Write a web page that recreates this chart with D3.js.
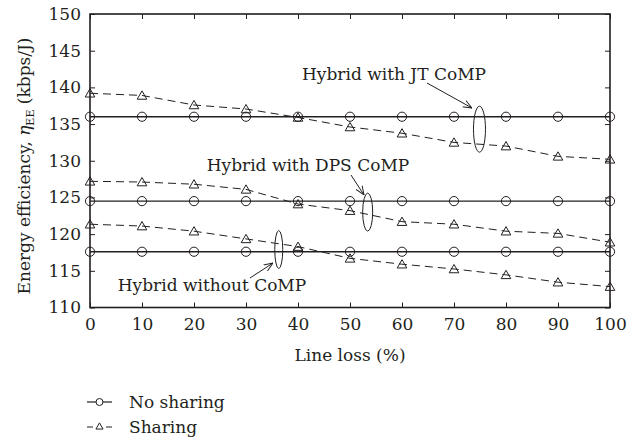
<!DOCTYPE html>
<html><head><meta charset="utf-8">
<script src="https://cdn.jsdelivr.net/npm/d3@7"></script>
<style>body{margin:0;background:#fff}svg{display:block}svg text{font-family:"DejaVu Serif",serif !important;fill:#231f20}</style>
</head><body><svg id="c" width="638" height="442"></svg>
<script>
const lineLoss = [0,10,20,30,40,50,60,70,80,90,100];
const jtNoSharing  = [136,136,136,136,136,136,136,136,136,136,136];
const jtSharing    = [139.2,138.9,137.6,137.05,135.9,134.6,133.75,132.5,132.0,130.6,130.2];
const dpsNoSharing = [124.5,124.5,124.5,124.5,124.5,124.5,124.5,124.5,124.5,124.5,124.5];
const dpsSharing   = [127.2,127.1,126.8,126.1,124.1,123.2,121.7,121.35,120.4,120.1,118.9];
const woNoSharing  = [117.6,117.6,117.6,117.6,117.6,117.6,117.6,117.6,117.6,117.6,117.6];
const woSharing    = [121.35,121.1,120.4,119.35,118.3,116.7,115.9,115.25,114.45,113.45,112.85];
const yTicks = [110,115,120,125,130,135,140,145,150];
const xTicks = [0,10,20,30,40,50,60,70,80,90,100];
const legendLabels = ["No sharing","Sharing"];
const annotations = [
  {text:"Hybrid with JT CoMP", tx:394, ty:80, ex:74.9, ey:134.3, ery:23, erx:6, ax1:427, ay1:83, ax2:472, ay2:108},
  {text:"Hybrid with DPS CoMP", tx:308, ty:171, ex:53.4, ey:123.0, ery:19, erx:5, ax1:351, ay1:175, ax2:364, ay2:195},
  {text:"Hybrid without CoMP", tx:212, ty:291, ex:36.3, ey:117.9, ery:19, erx:4, ax1:250, ay1:278, ax2:273, ay2:263}
];

const svg = d3.select("#c");
const L=90, R=610, T=14, B=307.5;
const x = d3.scaleLinear().domain([0,100]).range([L,R]);
const y = d3.scaleLinear().domain([110,150]).range([B,T]);
const ink="#231f20";

svg.append("defs").append("marker").attr("id","arr").attr("viewBox","0 0 10 10").attr("refX",10).attr("refY",5)
  .attr("markerWidth",9).attr("markerHeight",9).attr("markerUnits","userSpaceOnUse").attr("orient","auto")
  .append("path").attr("d","M0,1 L10,5 L0,9").attr("fill","none").attr("stroke",ink).attr("stroke-width",1.1);

const fs=17;
const gx = svg.append("g").attr("transform",`translate(0,${B})`).call(d3.axisBottom(x).tickValues(xTicks).tickSizeInner(-5).tickSizeOuter(0).tickPadding(10));
const gxt = svg.append("g").attr("transform",`translate(0,${T})`).call(d3.axisTop(x).tickValues(xTicks).tickSizeInner(-5).tickSizeOuter(0).tickFormat(""));
const gy = svg.append("g").attr("transform",`translate(${L},0)`).call(d3.axisLeft(y).tickValues(yTicks).tickSizeInner(-5).tickSizeOuter(0).tickPadding(9));
const gyr = svg.append("g").attr("transform",`translate(${R},0)`).call(d3.axisRight(y).tickValues(yTicks).tickSizeInner(-5).tickSizeOuter(0).tickFormat(""));
[gx,gxt,gy,gyr].forEach(g=>{g.attr("font-size",fs);g.select(".domain").remove();g.selectAll("line").attr("stroke",ink).attr("stroke-width",1);g.selectAll("text").attr("font-size",fs).attr("fill",ink);});
gx.selectAll("text").attr("dy","0.71em");
svg.append("rect").attr("x",L).attr("y",T).attr("width",R-L).attr("height",B-T).attr("fill","none").attr("stroke",ink).attr("stroke-width",1.6);

const line = d3.line().x((d,i)=>x(lineLoss[i])).y(d=>y(d));
const tri = d3.symbol().type(d3.symbolTriangle).size(40);
function drawSeries(vals, dashed){
  svg.append("path").attr("d",line(vals)).attr("fill","none").attr("stroke",ink).attr("stroke-width",dashed?1:1.3).attr("stroke-dasharray",dashed?"8,5":null);
  vals.forEach((v,i)=>{
    if(dashed) svg.append("path").attr("d",tri()).attr("transform",`translate(${x(lineLoss[i])},${y(v)+1})`).attr("fill","none").attr("stroke",ink).attr("stroke-width",1);
    else svg.append("circle").attr("cx",x(lineLoss[i])).attr("cy",y(v)).attr("r",4.6).attr("fill","none").attr("stroke",ink).attr("stroke-width",1);
  });
}
drawSeries(jtNoSharing,false); drawSeries(jtSharing,true);
drawSeries(dpsNoSharing,false); drawSeries(dpsSharing,true);
drawSeries(woNoSharing,false); drawSeries(woSharing,true);

annotations.forEach(a=>{
  svg.append("ellipse").attr("cx",x(a.ex)).attr("cy",y(a.ey)).attr("rx",a.erx).attr("ry",a.ery).attr("fill","none").attr("stroke",ink).attr("stroke-width",1);
  svg.append("line").attr("x1",a.ax1).attr("y1",a.ay1).attr("x2",a.ax2).attr("y2",a.ay2).attr("stroke",ink).attr("stroke-width",1).attr("marker-end","url(#arr)");
  svg.append("text").attr("x",a.tx).attr("y",a.ty).attr("text-anchor","middle").attr("font-size",fs).text(a.text);
});

svg.append("text").attr("x",350).attr("y",361).attr("text-anchor","middle").attr("font-size",fs).text("Line loss (%)");
const yl = svg.append("text").attr("transform","translate(30,166) rotate(-90)").attr("text-anchor","middle").attr("font-size",fs);
yl.append("tspan").text("Energy efficiency, ");
yl.append("tspan").attr("font-style","italic").text("η");
yl.append("tspan").attr("font-size",11).attr("dy",4).text("EE");
yl.append("tspan").attr("dy",-4).text(" (kbps/J)");

const lg = svg.append("g");
legendLabels.forEach((lab,i)=>{
  const yy = 402 + i*25;
  if(i===0){
    lg.append("line").attr("x1",87).attr("x2",112).attr("y1",yy).attr("y2",yy).attr("stroke",ink).attr("stroke-width",1.2);
    lg.append("circle").attr("cx",99.5).attr("cy",yy).attr("r",3.5).attr("fill","#fff").attr("stroke",ink).attr("stroke-width",1);
  } else {
    lg.append("line").attr("x1",87).attr("x2",93).attr("y1",yy).attr("y2",yy).attr("stroke",ink).attr("stroke-width",1);
    lg.append("line").attr("x1",106).attr("x2",112).attr("y1",yy).attr("y2",yy).attr("stroke",ink).attr("stroke-width",1);
    lg.append("path").attr("d",d3.symbol().type(d3.symbolTriangle).size(22)()).attr("transform",`translate(99.5,${yy})`).attr("fill","#fff").attr("stroke",ink).attr("stroke-width",1);
  }
  lg.append("text").attr("x",129).attr("y",yy+6).attr("font-size",fs).text(lab);
});
</script></body></html>
